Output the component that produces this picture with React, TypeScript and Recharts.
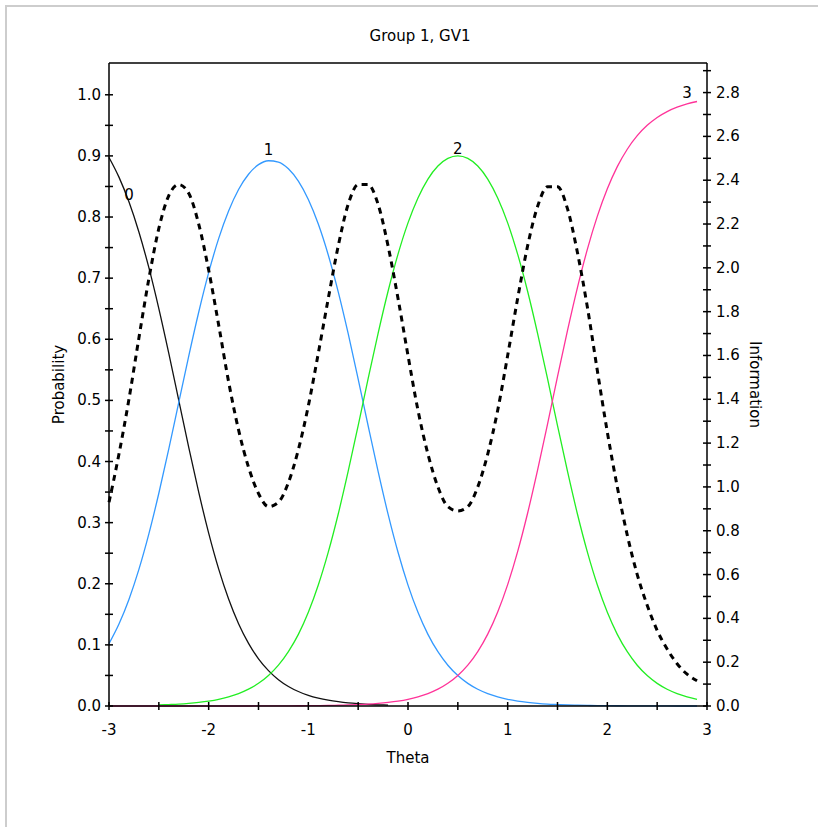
import React from 'react';
import { LineChart, Line, XAxis, YAxis, ReferenceLine } from 'recharts';

const theta = [
  -3.0, -2.9, -2.8, -2.7, -2.6, -2.5, -2.4, -2.3, -2.2, -2.1,
  -2.0, -1.9, -1.8, -1.7, -1.6, -1.5, -1.4, -1.3, -1.2, -1.1,
  -1.0, -0.9, -0.8, -0.7, -0.6, -0.5, -0.4, -0.3, -0.2, -0.1,
  0.0, 0.1, 0.2, 0.3, 0.4, 0.5, 0.6, 0.7, 0.8, 0.9,
  1.0, 1.1, 1.2, 1.3, 1.4, 1.5, 1.6, 1.7, 1.8, 1.9,
  2.0, 2.1, 2.2, 2.3, 2.4, 2.5, 2.6, 2.7, 2.8, 2.9,
];

const cat0 = [
  0.8975, 0.8653, 0.8249, 0.7756, 0.7171, 0.6502, 0.5769, 0.5, 0.4231, 0.3498,
  0.2829, 0.2244, 0.1751, 0.1347, 0.1025, 0.0772, 0.0579, 0.0431, 0.032, 0.0237,
  0.0175, 0.0129, 0.0095, 0.007, 0.0051, 0.0038, 0.0028, 0.002, 0.0015, null,
  null, null, null, null, null, null, null, null, null, null,
  null, null, null, null, null, null, null, null, null, null,
  null, null, null, null, null, null, null, null, null, null,
];

const cat1 = [
  0.1021, 0.1342, 0.1744, 0.2235, 0.2816, 0.3481, 0.4207, 0.4968, 0.5725, 0.6442,
  0.709, 0.7646, 0.8099, 0.845, 0.87, 0.8857, 0.8921, 0.89, 0.8789, 0.8587,
  0.8287, 0.7885, 0.7379, 0.6776, 0.6091, 0.5349, 0.4585, 0.3838, 0.3139, 0.2515,
  0.1978, 0.1532, 0.1172, 0.0888, 0.0667, 0.0498, 0.037, 0.0274, 0.0203, 0.015,
  0.011, 0.0081, 0.006, 0.0044, 0.0032, 0.0024, 0.0017, 0.0013, 0.0009, 0.0007,
  0.0005, 0.0004, 0.0003, 0.0002, 0.0002, 0.0001, 0.0001, 0, 0, 0,
];

const cat2 = [
  null, null, null, null, null, 0.0017, 0.0024, 0.0032, 0.0044, 0.006,
  0.0081, 0.011, 0.015, 0.0203, 0.0275, 0.0371, 0.05, 0.0669, 0.0891, 0.1172,
  0.1533, 0.1979, 0.2517, 0.3141, 0.3841, 0.4589, 0.5355, 0.6098, 0.6786, 0.7393,
  0.7904, 0.8312, 0.8621, 0.8834, 0.896, 0.9, 0.896, 0.8834, 0.8621, 0.8312,
  0.7904, 0.7393, 0.6786, 0.6098, 0.5355, 0.4589, 0.3841, 0.3141, 0.2517, 0.1979,
  0.1533, 0.1172, 0.0888, 0.0667, 0.0498, 0.037, 0.0274, 0.0203, 0.015, 0.011,
];

const cat3 = [
  0, 0, 0, 0, 0, 0, 0, 0, 0, 0,
  0, 0, 0, 0, 0, 0.0001, 0.0001, 0.0002, 0.0003, 0.0004,
  0.0005, 0.0007, 0.0009, 0.0013, 0.0017, 0.0024, 0.0032, 0.0044, 0.006, 0.0081,
  0.011, 0.015, 0.0203, 0.0275, 0.0371, 0.05, 0.0669, 0.0891, 0.1176, 0.1538,
  0.1986, 0.2526, 0.3154, 0.3858, 0.4613, 0.5387, 0.6142, 0.6846, 0.7474, 0.8014,
  0.8462, 0.8824, 0.9109, 0.9331, 0.95, 0.9629, 0.9725, 0.9797, 0.985, 0.989,
];

const info = [
  0.93, 1.15, 1.4, 1.68, 1.95, 2.18, 2.33, 2.38, 2.34, 2.2,
  1.99, 1.74, 1.48, 1.26, 1.09, 0.97, 0.91, 0.93, 1.02, 1.17,
  1.37, 1.61, 1.86, 2.1, 2.29, 2.38, 2.38, 2.29, 2.1, 1.86,
  1.6, 1.35, 1.15, 1.0, 0.91, 0.89, 0.91, 1.0, 1.15, 1.35,
  1.6, 1.86, 2.1, 2.28, 2.37, 2.37, 2.27, 2.07, 1.82, 1.53,
  1.25, 1.0, 0.78, 0.6, 0.46, 0.345, 0.26, 0.193, 0.145, 0.115,
];

const xTicks = [-3, -2.5, -2, -1.5, -1, -0.5, 0, 0.5, 1, 1.5, 2, 2.5, 3];
const probTicks = [
  0, 0.05, 0.1, 0.15, 0.2, 0.25, 0.3, 0.35, 0.4, 0.45, 0.5,
  0.55, 0.6, 0.65, 0.7, 0.75, 0.8, 0.85, 0.9, 0.95, 1.0,
];
const infoTicks = [
  0, 0.1, 0.2, 0.3, 0.4, 0.5, 0.6, 0.7, 0.8, 0.9, 1.0,
  1.1, 1.2, 1.3, 1.4, 1.5, 1.6, 1.7, 1.8, 1.9, 2.0,
  2.1, 2.2, 2.3, 2.4, 2.5, 2.6, 2.7, 2.8, 2.9,
];
const curveLabels = ['0', '1', '2', '3'];
const curveLabelIndex = [2, 16, 35, 58];

const data = theta.map((t, i) => ({
  t,
  c0: cat0[i],
  c1: cat1[i],
  c2: cat2[i],
  c3: cat3[i],
  info: info[i],
}));

const FONT = '"DejaVu Sans", sans-serif';
const FS = 15;
const AXIS_W = 1.5;

const LeftTick = (props: any) => {
  const { x, y, payload } = props;
  const ax = x + 7;
  const v = payload.value;
  const major = Math.round(v * 20) % 2 === 0;
  return (
    <g>
      <line x1={ax - 4} x2={ax + 4} y1={y} y2={y} stroke="#000" strokeWidth={AXIS_W} />
      {major && (
        <text x={x - 1} y={y} textAnchor="end" dominantBaseline="central" fontFamily={FONT} fontSize={FS} fill="#000">
          {v.toFixed(1)}
        </text>
      )}
    </g>
  );
};

const RightTick = (props: any) => {
  const { x, y, payload } = props;
  const ax = x - 9;
  const v = payload.value;
  const major = Math.round(v * 10) % 2 === 0;
  return (
    <g>
      <line x1={ax - 4} x2={ax + 4} y1={y} y2={y} stroke="#000" strokeWidth={AXIS_W} />
      {major && (
        <text x={x} y={y} textAnchor="start" dominantBaseline="central" fontFamily={FONT} fontSize={FS} fill="#000">
          {v.toFixed(1)}
        </text>
      )}
    </g>
  );
};

const BottomTick = (props: any) => {
  const { x, y, payload } = props;
  const ay = y - 16;
  const v = payload.value;
  const major = Number.isInteger(v);
  return (
    <g>
      <line x1={x} x2={x} y1={ay - 4} y2={ay + 4} stroke="#000" strokeWidth={AXIS_W} />
      {major && (
        <text x={x} y={ay + 23.5} textAnchor="middle" dominantBaseline="central" fontFamily={FONT} fontSize={FS} fill="#000">
          {String(v)}
        </text>
      )}
    </g>
  );
};

const AxisTitle = (props: any) => {
  const { viewBox, titleText, posX, posY, rot } = props;
  const vb = viewBox || { x: 0, y: 0, width: 0, height: 0 };
  const cx = posX !== undefined ? vb.x + posX : vb.x + vb.width / 2;
  const cy = posY !== undefined ? vb.y + posY : vb.y + vb.height / 2;
  return (
    <text
      x={cx}
      y={cy}
      textAnchor="middle"
      dominantBaseline="central"
      fontFamily={FONT}
      fontSize={FS}
      fill="#000"
      transform={rot ? `rotate(${rot} ${cx} ${cy})` : undefined}
    >
      {titleText}
    </text>
  );
};

const makeDot = (k: number, offY: number) => (p: any) => {
  if (p.index === curveLabelIndex[k] && p.cy != null) {
    return (
      <text
        key={`lbl-${k}`}
        x={p.cx}
        y={p.cy + offY}
        textAnchor="middle"
        dominantBaseline="central"
        fontFamily={FONT}
        fontSize={FS}
        fill="#000"
      >
        {curveLabels[k]}
      </text>
    );
  }
  return <g key={`d-${k}-${p.index}`} />;
};

export default function App() {
  return (
    <div style={{ position: 'absolute', left: 0, top: 0, width: 818, height: 827, background: '#fff' }}>
      <div
        style={{
          position: 'absolute',
          left: 5,
          top: 5,
          width: 900,
          height: 900,
          borderTop: '2px solid #cdcdcd',
          borderLeft: '2px solid #cdcdcd',
        }}
      />
      <svg style={{ position: 'absolute', left: 0, top: 0 }} width={818} height={60}>
        <text x={420} y={36} textAnchor="middle" dominantBaseline="central" fontFamily={FONT} fontSize={FS} fill="#000">
          Group 1, GV1
        </text>
      </svg>
      <div style={{ position: 'absolute', left: 0, top: 0 }}>
        <LineChart width={818} height={827} data={data} margin={{ top: 63, right: 0, bottom: 0, left: 0 }}>
          <XAxis
            dataKey="t"
            type="number"
            domain={[-3, 3]}
            ticks={xTicks}
            interval={0}
            height={121}
            tickSize={4}
            tickMargin={12}
            tickLine={false}
            tick={<BottomTick />}
            axisLine={{ stroke: '#000', strokeWidth: AXIS_W }}
            label={<AxisTitle titleText="Theta" posY={52} />}
          />
          <YAxis
            yAxisId="p"
            orientation="left"
            type="number"
            domain={[0, 1.052]}
            ticks={probTicks}
            interval={0}
            width={109}
            tickSize={4}
            tickMargin={3}
            tickLine={false}
            tick={<LeftTick />}
            axisLine={{ stroke: '#000', strokeWidth: AXIS_W }}
            label={<AxisTitle titleText="Probability" posX={59} rot={-90} />}
          />
          <YAxis
            yAxisId="i"
            orientation="right"
            type="number"
            domain={[0, 2.935]}
            ticks={infoTicks}
            interval={0}
            width={111}
            tickSize={4}
            tickMargin={5}
            tickLine={false}
            tick={<RightTick />}
            axisLine={{ stroke: '#000', strokeWidth: AXIS_W }}
            label={<AxisTitle titleText="Information" posX={48} rot={90} />}
          />
          <ReferenceLine yAxisId="p" y={1.052} stroke="#000" strokeWidth={AXIS_W} />
          <Line yAxisId="p" dataKey="c0" type="monotone" stroke="#111111" strokeWidth={1.3} dot={makeDot(0, -7)} activeDot={false} isAnimationActive={false} />
          <Line yAxisId="p" dataKey="c1" type="monotone" stroke="#3399ff" strokeWidth={1.3} dot={makeDot(1, -11)} activeDot={false} isAnimationActive={false} />
          <Line yAxisId="p" dataKey="c2" type="monotone" stroke="#22ee22" strokeWidth={1.3} dot={makeDot(2, -7)} activeDot={false} isAnimationActive={false} />
          <Line yAxisId="p" dataKey="c3" type="monotone" stroke="#ff3399" strokeWidth={1.3} dot={makeDot(3, -11)} activeDot={false} isAnimationActive={false} />
          <Line yAxisId="i" dataKey="info" type="monotone" stroke="#000" strokeWidth={3} strokeDasharray="6 5" dot={false} activeDot={false} isAnimationActive={false} />
        </LineChart>
      </div>
    </div>
  );
}
